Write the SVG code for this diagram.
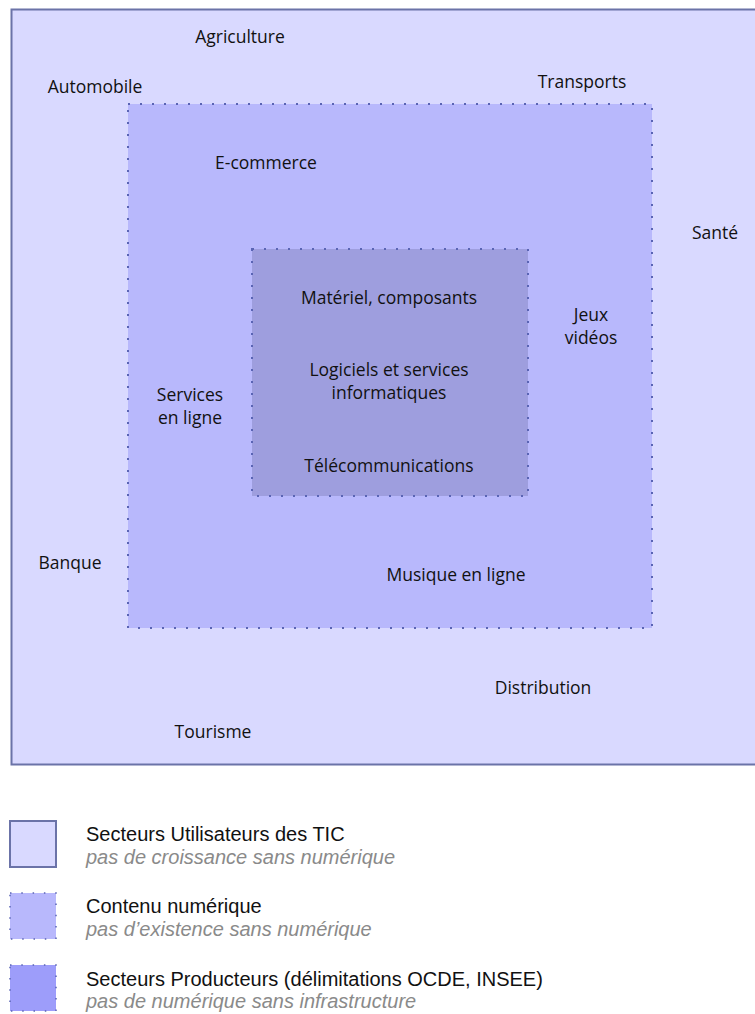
<svg xmlns="http://www.w3.org/2000/svg" width="755" height="1014" viewBox="0 0 755 1014">
<style>
.lbl{font-family:"Open Sans","Noto Sans",sans-serif;font-size:17.5px;fill:#111;text-anchor:middle}
.dot{stroke:#5a64b4;stroke-width:2;stroke-dasharray:2 10;fill:none}
.ldot{stroke:#5a64b4;stroke-width:1.5;stroke-dasharray:1.5 9.8;fill:none}
.lt{font-family:"Liberation Sans",Arial,sans-serif;font-size:20px;fill:#111}
.ls{font-family:"Liberation Sans",Arial,sans-serif;font-size:20px;font-style:italic;fill:#8a8a8a}
</style>
<rect width="755" height="1014" fill="#ffffff"/>
<g id="users">
<rect x="11.5" y="9.5" width="760" height="755" fill="#d9d9ff" stroke="#6b73a8" stroke-width="2"/>
</g>
<g id="content">
<rect x="128" y="104" width="524" height="524" fill="#b8b8fc"/>
<rect x="128" y="104" width="524" height="524" class="dot"/>
</g>
<g id="producers">
<rect x="252" y="249" width="276" height="247" fill="#9e9ede"/>
<rect x="252" y="249" width="276" height="247" class="dot"/>
</g>
<g id="labels">
<text class="lbl" x="240" y="43">Agriculture</text>
<text class="lbl" x="95" y="93">Automobile</text>
<text class="lbl" x="582" y="88">Transports</text>
<text class="lbl" x="266" y="169">E-commerce</text>
<text class="lbl" x="715" y="239">Santé</text>
<text class="lbl" x="389" y="304">Matériel, composants</text>
<text class="lbl" x="591" y="321">Jeux</text>
<text class="lbl" x="591" y="344">vidéos</text>
<text class="lbl" x="389" y="376">Logiciels et services</text>
<text class="lbl" x="389" y="399">informatiques</text>
<text class="lbl" x="190" y="401">Services</text>
<text class="lbl" x="190" y="424">en ligne</text>
<text class="lbl" x="389" y="472">Télécommunications</text>
<text class="lbl" x="70" y="569">Banque</text>
<text class="lbl" x="456" y="581">Musique en ligne</text>
<text class="lbl" x="543" y="694">Distribution</text>
<text class="lbl" x="213" y="738">Tourisme</text>
</g>
<g id="legend-users">
<rect x="10" y="821" width="46" height="46" fill="#d9d9ff" stroke="#6b73a8" stroke-width="2"/>
<text class="lt" x="86" y="841">Secteurs Utilisateurs des TIC</text>
<text class="ls" x="86" y="864">pas de croissance sans numérique</text>
</g>
<g id="legend-content">
<rect x="10" y="893" width="46" height="46" fill="#b8b8fc"/>
<rect x="10" y="893" width="46" height="46" class="ldot"/>
<text class="lt" x="86" y="913">Contenu numérique</text>
<text class="ls" x="86" y="936">pas d’existence sans numérique</text>
</g>
<g id="legend-producers">
<rect x="10" y="965" width="46" height="46" fill="#9d9dfa"/>
<rect x="10" y="965" width="46" height="46" class="ldot"/>
<text class="lt" x="86" y="986">Secteurs Producteurs (délimitations OCDE, INSEE)</text>
<text class="ls" x="86" y="1008">pas de numérique sans infrastructure</text>
</g>
</svg>
